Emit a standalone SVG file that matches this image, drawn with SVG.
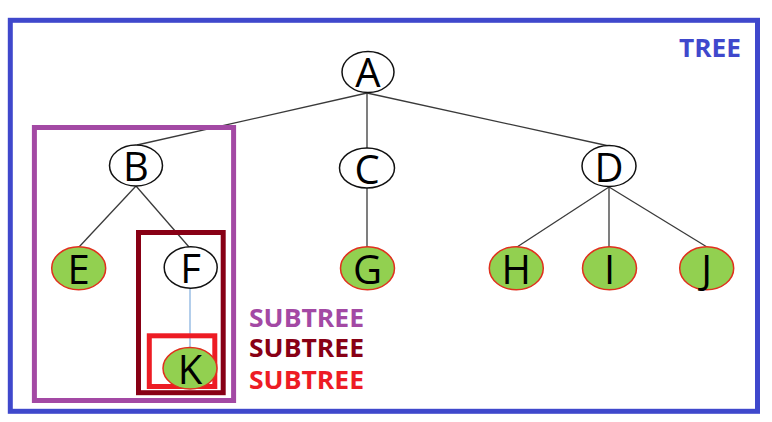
<svg xmlns="http://www.w3.org/2000/svg" width="772" height="422" viewBox="0 0 772 422">
  <style>
    .edge { stroke: #3a3a3a; stroke-width: 1.3; fill: none; }
    .edge-blue { stroke: #8ab4e0; stroke-width: 1.3; fill: none; }
    .plain { fill: #ffffff; stroke: #111111; stroke-width: 1.5; }
    .leaf { fill: #92d050; stroke: #e0301e; stroke-width: 1.5; }
    .lbl { font-family: "Open Sans", "Noto Sans", sans-serif; font-size: 40px; fill: #000000; text-anchor: middle; }
    .frame { fill: none; stroke-width: 5; }
    .tag { font-family: "Open Sans", "Noto Sans", sans-serif; font-size: 25px; font-weight: bold; }
  </style>
  <rect x="0" y="0" width="772" height="422" fill="#ffffff"/>
  <rect id="tree-frame" class="frame" x="10.3" y="20.3" width="747.2" height="391" stroke="#3f48cc"/>
  <text class="tag" x="679" y="57" fill="#3f48cc" textLength="62" lengthAdjust="spacingAndGlyphs">TREE</text>

  <g id="connectors">
    <line class="edge" x1="367" y1="93" x2="137" y2="145"/>
    <line class="edge" x1="367" y1="93" x2="367" y2="149"/>
    <line class="edge" x1="367" y1="93" x2="609" y2="146"/>
    <line class="edge" x1="136" y1="186" x2="79" y2="247"/>
    <line class="edge" x1="136" y1="186" x2="189" y2="247"/>
    <line class="edge" x1="367" y1="188" x2="367" y2="247"/>
    <line class="edge" x1="609" y1="187" x2="517" y2="247"/>
    <line class="edge" x1="609" y1="187" x2="609" y2="247"/>
    <line class="edge" x1="609" y1="187" x2="707" y2="247"/>
    <line class="edge-blue" x1="190" y1="288" x2="190" y2="348"/>
  </g>

  <rect id="subtree-B" class="frame" x="34.4" y="127.5" width="199.2" height="273" stroke="#a349a4"/>
  <rect id="subtree-F" class="frame" x="138.5" y="232.5" width="84.7" height="160.2" stroke="#880015"/>
  <rect id="subtree-K" class="frame" x="149.3" y="335.8" width="65.5" height="50.7" stroke="#ed1c24"/>

  <g id="node-A"><ellipse class="plain" cx="368" cy="72" rx="26" ry="20.5"/><text class="lbl" x="368" y="87">A</text></g>
  <g id="node-B"><ellipse class="plain" cx="136" cy="165.5" rx="26.5" ry="20.5"/><text class="lbl" x="136" y="181">B</text></g>
  <g id="node-C"><ellipse class="plain" cx="367" cy="168" rx="27.5" ry="20"/><text class="lbl" x="367" y="183.5">C</text></g>
  <g id="node-D"><ellipse class="plain" cx="609" cy="166" rx="27" ry="20.5"/><text class="lbl" x="609" y="181.5">D</text></g>
  <g id="node-E"><ellipse class="leaf" cx="78.7" cy="268.3" rx="27" ry="21.5"/><text class="lbl" x="78.7" y="284">E</text></g>
  <g id="node-F"><ellipse class="plain" cx="190.7" cy="267.5" rx="26.5" ry="20.8"/><text class="lbl" x="190.7" y="283">F</text></g>
  <g id="node-G"><ellipse class="leaf" cx="367.5" cy="268.3" rx="27" ry="21.5"/><text class="lbl" x="367.5" y="283.5">G</text></g>
  <g id="node-H"><ellipse class="leaf" cx="516.3" cy="268.3" rx="27" ry="21.5"/><text class="lbl" x="516.3" y="284">H</text></g>
  <g id="node-I"><ellipse class="leaf" cx="609.5" cy="268.3" rx="27" ry="21.5"/><text class="lbl" x="609.5" y="284">I</text></g>
  <g id="node-J"><ellipse class="leaf" cx="706.7" cy="268.3" rx="27" ry="21.5"/><text class="lbl" x="706.7" y="284">J</text></g>
  <g id="node-K"><ellipse class="leaf" cx="190" cy="368.3" rx="27" ry="20.8"/><text class="lbl" x="190" y="384">K</text></g>

  <text class="tag" x="249" y="326.7" fill="#a349a4" textLength="115" lengthAdjust="spacingAndGlyphs">SUBTREE</text>
  <text class="tag" x="249" y="357.3" fill="#880015" textLength="115" lengthAdjust="spacingAndGlyphs">SUBTREE</text>
  <text class="tag" x="249" y="389.3" fill="#ed1c24" textLength="115" lengthAdjust="spacingAndGlyphs">SUBTREE</text>
</svg>
